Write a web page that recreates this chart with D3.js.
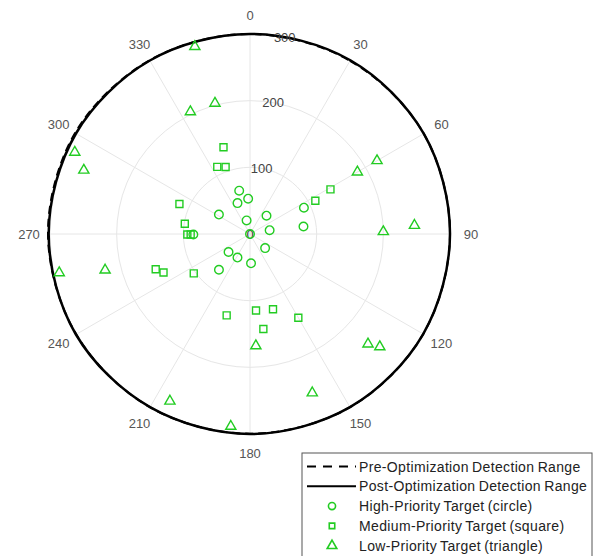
<!DOCTYPE html>
<html>
<head>
<meta charset="utf-8">
<script src="https://cdn.jsdelivr.net/npm/d3@7"></script>
<style>
  body { margin: 0; background: #fff; }
  text { font-family: "Liberation Sans", Arial, sans-serif; }
</style>
</head>
<body>
<svg id="chart"></svg>
<script>
// Angular ticks (degrees, clockwise from north) and radial ticks.
var thetaTicks = [0, 30, 60, 90, 120, 150, 180, 210, 240, 270, 300, 330];
var rTicks = [0, 100, 200, 300];

// Detection range boundaries, sampled every 30 degrees.
var rangeAngles = [0, 30, 60, 90, 120, 150, 180, 210, 240, 270, 300, 330];
var preRange  = [300, 300, 301, 300, 300, 300, 299.5, 300, 301, 303, 303, 301];
var postRange = [300, 301, 301, 300, 300, 300, 300, 300, 301.5, 302, 301.5, 300.5];

// High-priority targets (circle).
var highAngles = [346, 357, 338, 302, 346, 42, 79, 0, 269.5, 133, 230, 208, 178, 221, 64, 82];
var highRanges = [67, 53, 50, 55, 21, 37, 30, 0, 85, 31, 42, 40, 44, 71, 90, 81];

// Medium-priority targets (square).
var mediumAngles = [343, 334, 340, 293, 279, 269.5, 269.5, 61, 63, 249.5, 246, 235, 196, 175.5, 163, 150, 172];
var mediumRanges = [136, 112, 107, 115, 99, 94, 89, 138, 110, 151, 142, 103, 127, 115, 118, 145, 144];

// Low-priority targets (triangle).
var lowAngles = [343.6, 345, 334, 295, 291, 60, 60, 89, 87, 258.5, 256, 177, 205.6, 185.7, 133, 131, 158.6];
var lowRanges = [293, 203, 204, 290, 267, 220, 186, 200, 247, 292, 224, 168, 278, 290, 242, 258, 256];

var legendLabels = [
  "Pre-Optimization Detection Range",
  "Post-Optimization Detection Range",
  "High-Priority Target (circle)",
  "Medium-Priority Target (square)",
  "Low-Priority Target (triangle)"
];

var width = 594, height = 556;
var cx = 250, cy = 234, R = 200;
var green = "#22cc22";

var svg = d3.select("#chart")
  .attr("width", width)
  .attr("height", height);

svg.append("rect").attr("width", width).attr("height", height).attr("fill", "#fff");

var angle = d3.scaleLinear().domain([0, 360]).range([0, 2 * Math.PI]);
var r = d3.scaleLinear().domain([0, 300]).range([0, R]);

var g = svg.append("g").attr("transform", "translate(" + cx + "," + cy + ")");

// Grid circles
g.selectAll(".grid-circle")
  .data(rTicks.filter(function(d){ return d > 0; }))
  .enter().append("circle")
  .attr("r", function(d){ return r(d); })
  .attr("fill", "none")
  .attr("stroke", "#e6e6e6")
  .attr("stroke-width", 1);

// Spokes
g.selectAll(".spoke")
  .data(thetaTicks)
  .enter().append("line")
  .attr("x1", 0).attr("y1", 0)
  .attr("x2", function(d){ return d3.pointRadial(angle(d), R)[0]; })
  .attr("y2", function(d){ return d3.pointRadial(angle(d), R)[1]; })
  .attr("stroke", "#e6e6e6")
  .attr("stroke-width", 1);

// Angular labels
g.selectAll(".theta-label")
  .data(thetaTicks)
  .enter().append("text")
  .attr("x", function(d){ return d3.pointRadial(angle(d), R + 21)[0]; })
  .attr("y", function(d){ return d3.pointRadial(angle(d), R + 19)[1]; })
  .attr("text-anchor", "middle")
  .attr("dominant-baseline", "central")
  .attr("font-size", 13)
  .attr("fill", "#555")
  .text(function(d){ return d; });

// Detection range curves
var rangeLine = d3.lineRadial()
  .angle(function(d){ return angle(d[0]); })
  .radius(function(d){ return r(d[1]); })
  .curve(d3.curveCardinalClosed);

g.append("path")
  .datum(rangeAngles.map(function(a, i){ return [a, preRange[i]]; }))
  .attr("d", rangeLine)
  .attr("fill", "none")
  .attr("stroke", "#000")
  .attr("stroke-width", 2)
  .attr("stroke-dasharray", "8,5");

g.append("path")
  .datum(rangeAngles.map(function(a, i){ return [a, postRange[i]]; }))
  .attr("d", rangeLine)
  .attr("fill", "none")
  .attr("stroke", "#000")
  .attr("stroke-width", 2.5);

// Radial labels at 10 degrees
g.selectAll(".r-label")
  .data(rTicks)
  .enter().append("text")
  .attr("x", function(d){ return d3.pointRadial(angle(10), r(d))[0]; })
  .attr("y", function(d){ return d3.pointRadial(angle(10), r(d))[1]; })
  .attr("text-anchor", "middle")
  .attr("dominant-baseline", "central")
  .attr("font-size", 13)
  .attr("fill", "#444")
  .text(function(d){ return d; });

// Targets
function drawTargets(angles, ranges, type, size) {
  var sym = d3.symbol().type(type).size(size);
  g.selectAll(null)
    .data(angles.map(function(a, i){ return [a, ranges[i]]; }))
    .enter().append("path")
    .attr("d", sym)
    .attr("transform", function(d){
      var p = d3.pointRadial(angle(d[0]), r(d[1]));
      return "translate(" + p[0] + "," + p[1] + ")";
    })
    .attr("fill", "none")
    .attr("stroke", green)
    .attr("stroke-width", 1.4);
}
drawTargets(highAngles, highRanges, d3.symbolCircle, 58);
drawTargets(mediumAngles, mediumRanges, d3.symbolSquare, 49);
drawTargets(lowAngles, lowRanges, d3.symbolTriangle, 45);

// Legend
var lg = svg.append("g").attr("transform", "translate(302,453)");
lg.append("rect")
  .attr("width", 290).attr("height", 110)
  .attr("fill", "#fff")
  .attr("stroke", "#555")
  .attr("stroke-width", 1);

var rowY = function(i){ return 13.5 + i * 19.8; };
lg.append("line")
  .attr("x1", 5).attr("x2", 54).attr("y1", rowY(0)).attr("y2", rowY(0))
  .attr("stroke", "#000").attr("stroke-width", 2).attr("stroke-dasharray", "9,7");
lg.append("line")
  .attr("x1", 5).attr("x2", 54).attr("y1", rowY(1)).attr("y2", rowY(1))
  .attr("stroke", "#000").attr("stroke-width", 2);

var legendSymbols = [d3.symbolCircle, d3.symbolSquare, d3.symbolTriangle];
var legendSizes = [40, 30, 40];
legendSymbols.forEach(function(s, i){
  lg.append("path")
    .attr("d", d3.symbol().type(s).size(legendSizes[i]))
    .attr("transform", "translate(30," + rowY(i + 2) + ")")
    .attr("fill", "none")
    .attr("stroke", green)
    .attr("stroke-width", 1.6);
});

lg.selectAll(".legend-text")
  .data(legendLabels)
  .enter().append("text")
  .attr("x", 57)
  .attr("y", function(d, i){ return rowY(i); })
  .attr("dominant-baseline", "central")
  .attr("font-size", 14)
  .attr("fill", "#222")
  .attr("letter-spacing", 0.35)
  .attr("word-spacing", -1)
  .text(function(d){ return d; });
</script>
</body>
</html>
